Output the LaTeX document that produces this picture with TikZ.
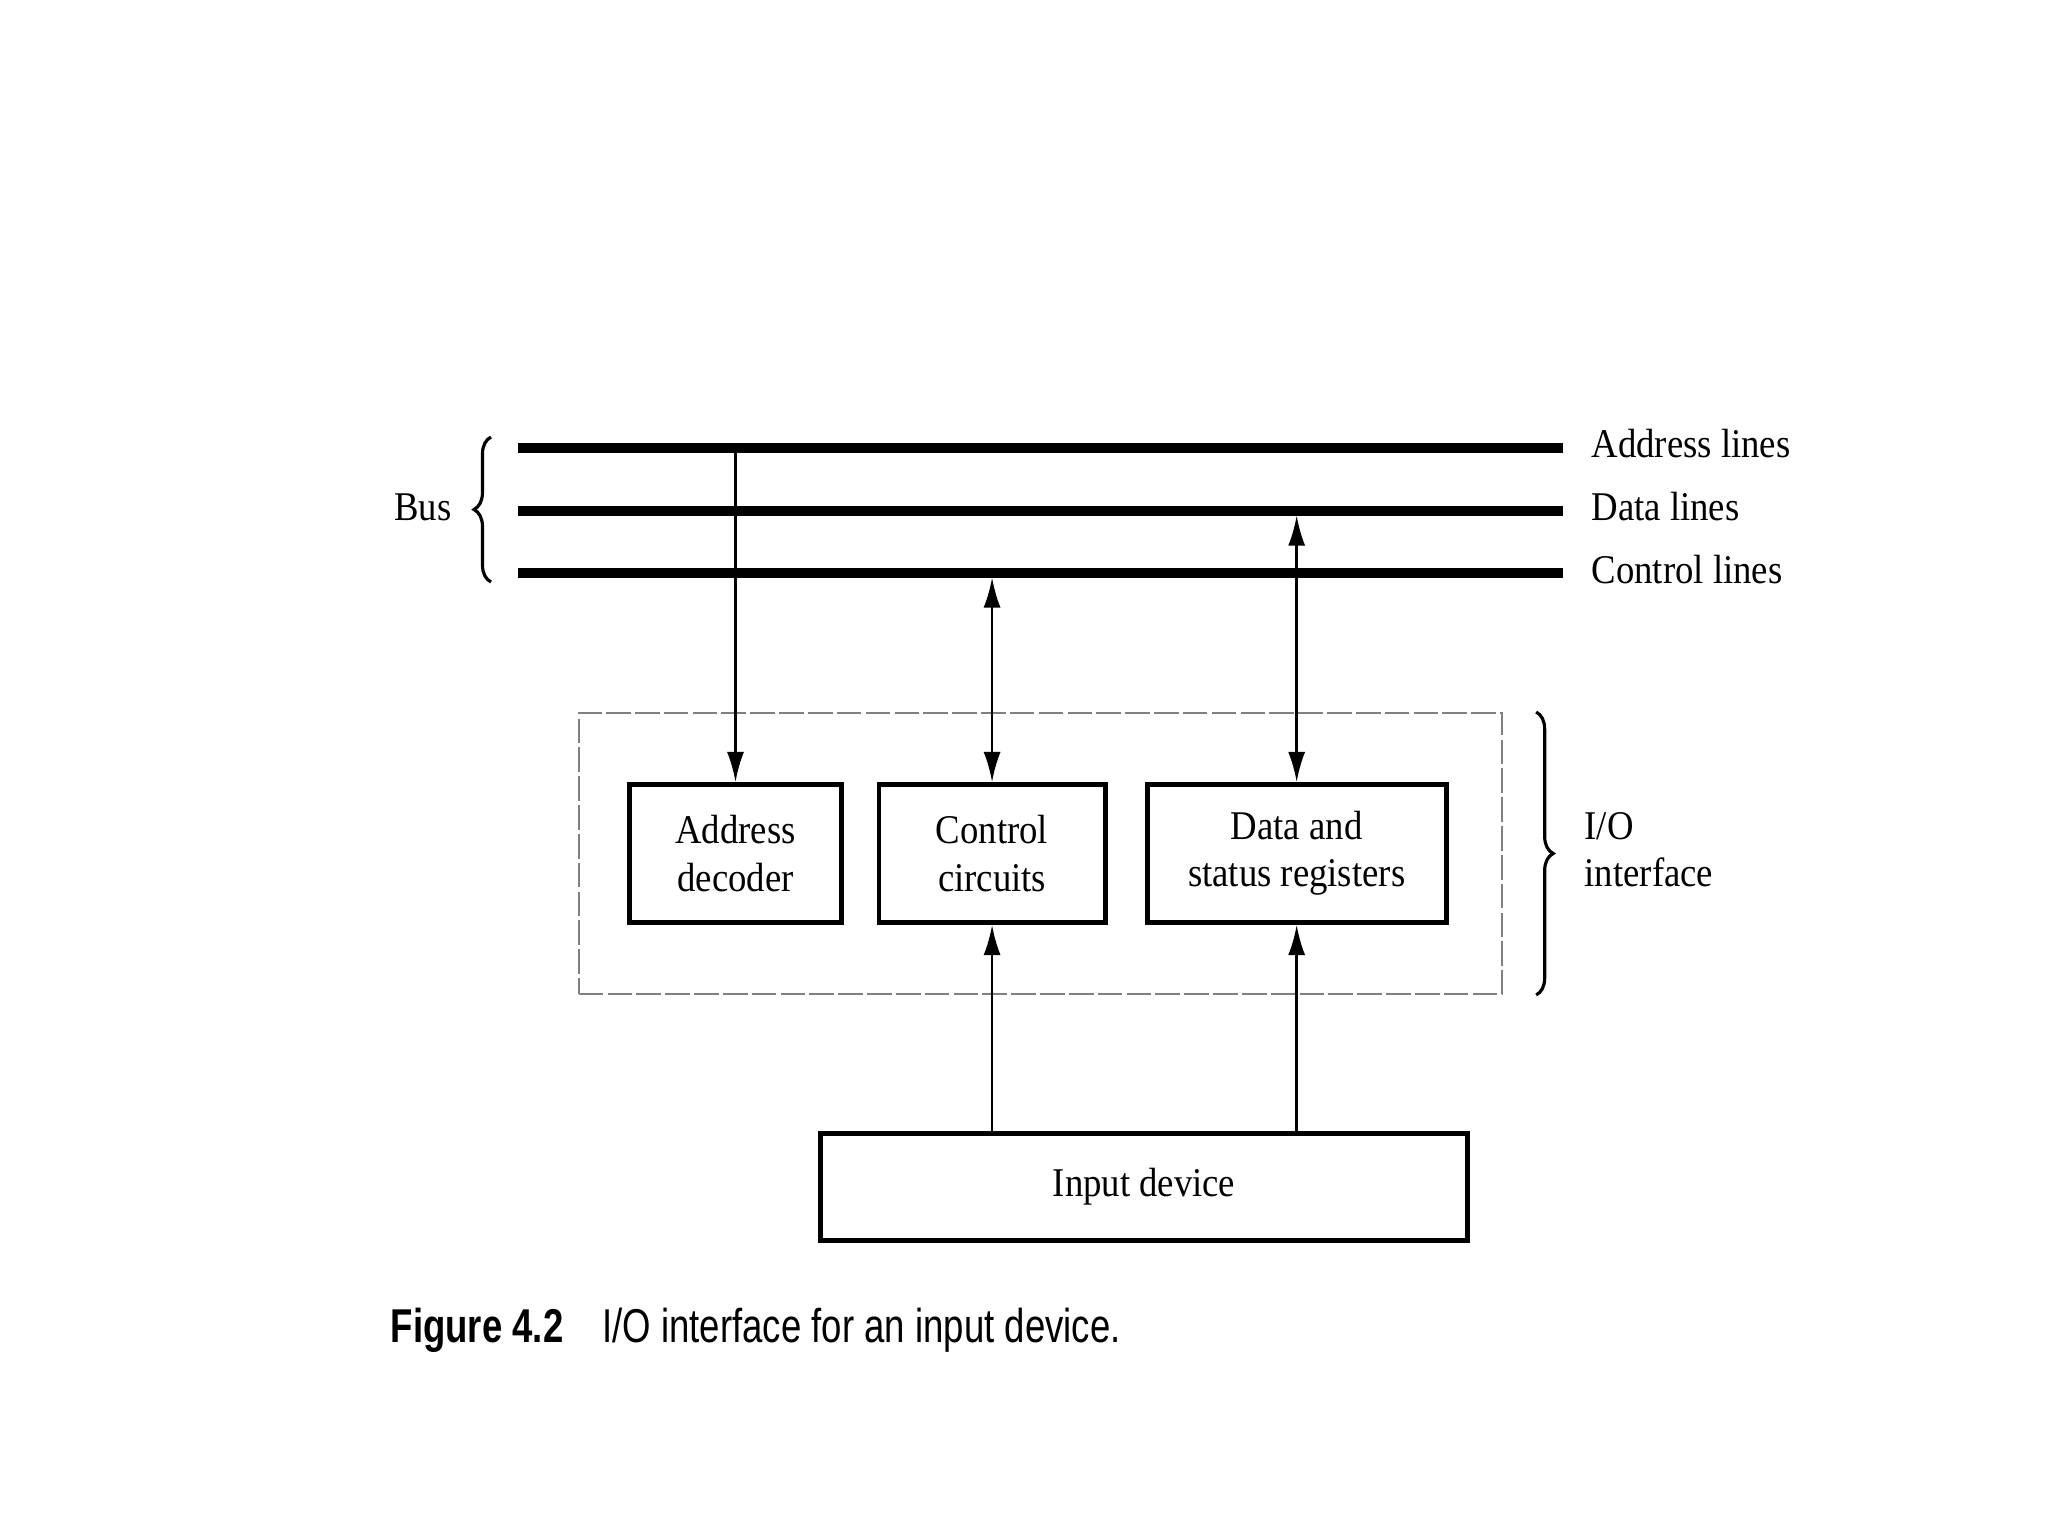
\documentclass[tikz,border=0pt]{standalone}
\usepackage{fontspec}
\setmainfont{Liberation Serif}[FakeStretch=0.9]
\newfontfamily\capfont{Liberation Sans}[FakeStretch=0.77]
\usepackage{tikz}
\usetikzlibrary{arrows.meta, positioning, decorations.pathreplacing}

\begin{document}
\begin{tikzpicture}[
  x=0.01cm, y=-0.01cm,
  node distance=0.37cm,
  lbl/.style={inner sep=0pt, font=\fontsize{11.6}{13.4}\selectfont},
  unitbox/.style={draw, line width=1.4pt, inner sep=2pt, align=center, minimum height=1.38cm, font=\fontsize{11.6}{13.4}\selectfont},
  iobox/.style={draw, gray, line width=0.5pt, dash pattern=on 7pt off 1.2pt, minimum width=9.23cm, minimum height=2.81cm},
  busline/.style={line width=2.6pt},
  sig/.style={line width=0.7pt, -{Latex[length=3mm, width=1.7mm]}},
  bisig/.style={line width=0.7pt, {Latex[length=3mm, width=1.7mm]}-{Latex[length=3mm, width=1.7mm]}},
  brc/.style={decorate, decoration={brace, amplitude=0.17cm}, line width=0.9pt},
]
\path[fill=white] (0,0) rectangle (2048,1536);
\useasboundingbox (0,0) rectangle (2048,1536);

% bus
\coordinate (al) at (518,448);  \coordinate (ar) at (1563,448);
\coordinate (dl) at (518,511);  \coordinate (dr) at (1563,511);
\coordinate (cl) at (518,573);  \coordinate (cr) at (1563,573);
\draw[busline] (al) -- (ar);
\draw[busline] (dl) -- (dr);
\draw[busline] (cl) -- (cr);

\node[lbl, anchor=base west] (atxt) at (1591,457) {Address lines};
\node[lbl, anchor=base west] (dtxt) at (1591,520) {Data lines};
\node[lbl, anchor=base west] (ctxt) at (1591,583) {Control lines};
\node[lbl, anchor=base east] (bus) at (452,520) {Bus};
\draw[brc] ([xshift=-0.27cm, yshift=-0.09cm]cl) -- ([xshift=-0.27cm, yshift=0.11cm]al);

% interface
\node[iobox] (io) at (1040.5,853.5) {};
\node[unitbox, minimum width=2.11cm] (dec) at (735.5,853.5) {Address\\decoder};
\node[unitbox, minimum width=2.26cm, right=0.33cm of dec] (ctrl) {Control\\circuits};
\node[unitbox, minimum width=2.99cm, right=of ctrl] (reg) {Data and\\status registers};
\draw[brc] ([xshift=0.33cm]io.north east) -- ([xshift=0.33cm]io.south east);
\node[lbl, anchor=west, align=left] (iotxt) at (1584,850) {I/O\\interface};

\node[unitbox, minimum width=6.46cm, minimum height=1.07cm] (inp) at (1144,1187) {Input device};

% connections
\draw[sig] (dec.north |- al) -- (dec.north);
\draw[bisig, shorten <=1.3pt] (ctrl.north |- cl) -- (ctrl.north);
\draw[bisig, shorten <=1.3pt] (reg.north |- dl) -- (reg.north);
\draw[sig] (inp.north -| ctrl) -- (ctrl.south);
\draw[sig] (inp.north -| reg) -- (reg.south);

\node[anchor=base west, inner sep=0pt, font=\capfont\fontsize{13.5}{16}\selectfont] (cap) at (390,1342)
  {\textbf{Figure 4.2}\hspace{0.39cm}I/O interface for an input device.};
\end{tikzpicture}
\end{document}
